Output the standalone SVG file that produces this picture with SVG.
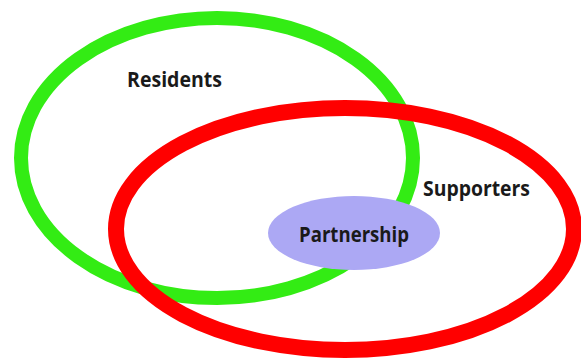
<svg xmlns="http://www.w3.org/2000/svg" width="581" height="363" viewBox="0 0 581 363">
  <style>
    .ring { fill: none; }
    .label { font-family: "Open Sans", "Liberation Sans", sans-serif; font-weight: bold; font-size: 21px; fill: #1a1a1a; }
  </style>
  <rect width="581" height="363" fill="#ffffff"/>
  <g id="residents">
    <ellipse class="ring" cx="217" cy="158" rx="196" ry="140" stroke="#33ec14" stroke-width="14"/>
    <text class="label" x="127" y="87" textLength="95" lengthAdjust="spacingAndGlyphs">Residents</text>
  </g>
  <g id="supporters">
    <ellipse class="ring" cx="345" cy="229" rx="229" ry="121" stroke="#ff0000" stroke-width="16"/>
    <text class="label" x="423" y="196" textLength="107" lengthAdjust="spacingAndGlyphs">Supporters</text>
  </g>
  <g id="partnership">
    <ellipse cx="354" cy="233" rx="86" ry="37" fill="#aca8f4"/>
    <text class="label" x="299" y="242" textLength="110" lengthAdjust="spacingAndGlyphs" fill="#15152a">Partnership</text>
  </g>
  <g id="connectors"/>
</svg>
